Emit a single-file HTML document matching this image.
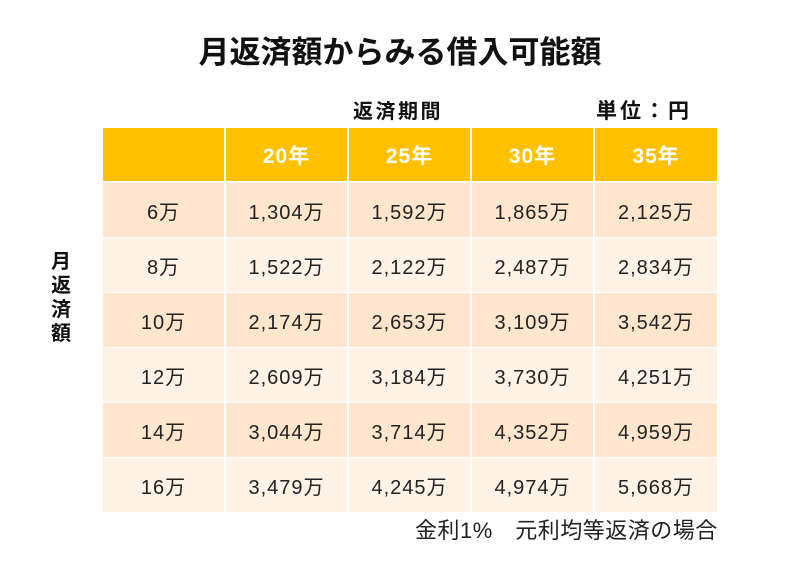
<!DOCTYPE html><html><head><meta charset="utf-8"><style>
body{margin:0;width:793px;height:585px;background:#fff;position:relative;overflow:hidden;font-family:"Liberation Sans","Noto Sans CJK JP",sans-serif;}
.c{position:absolute;display:flex;align-items:center;justify-content:center;font-size:20px;color:#222;letter-spacing:1px;}
.h{background:#FFC000;color:#fff;font-weight:bold;font-size:21px;}
.t{position:absolute;font-weight:bold;color:#111;white-space:nowrap;}
</style></head><body>
<div class="t" style="left:0;width:800px;top:27px;text-align:center;font-size:31px;">月返済額からみる借入可能額</div>
<div class="t" style="left:353px;top:95px;font-size:20px;letter-spacing:2.5px;">返済期間</div>
<div class="t" style="left:596px;top:95px;font-size:21px;letter-spacing:3px;">単位：円</div>
<div class="t" style="left:48px;top:250px;font-size:20px;width:26px;line-height:24px;text-align:center;">月<br>返<br>済<br>額</div>
<div class="c" style="left:415px;top:513px;height:32px;font-size:22px;white-space:nowrap;letter-spacing:0.5px;">金利1%　元利均等返済の場合</div>
<div id="g"></div>
<script>
var xs=[103,226,349,472,595],w=[122,122,122,122,123];
var hd=["","20年","25年","30年","35年"];
var d=[["6万","1,304万","1,592万","1,865万","2,125万"],["8万","1,522万","2,122万","2,487万","2,834万"],["10万","2,174万","2,653万","3,109万","3,542万"],["12万","2,609万","3,184万","3,730万","4,251万"],["14万","3,044万","3,714万","4,352万","4,959万"],["16万","3,479万","4,245万","4,974万","5,668万"]];
var s="";
for(var j=0;j<5;j++)s+='<div class="c h" style="left:'+xs[j]+'px;top:128px;width:'+(w[j]-1)+'px;height:53px;">'+hd[j]+'</div>';
for(var i=0;i<6;i++)for(j=0;j<5;j++)s+='<div class="c" style="left:'+xs[j]+'px;top:'+(183+55*i)+'px;width:'+(w[j]-1)+'px;height:54px;background:'+(i%2?'#FFF2E6':'#FFE6CC')+'">'+d[i][j]+'</div>';
document.getElementById("g").innerHTML=s;
</script>
</body></html>
